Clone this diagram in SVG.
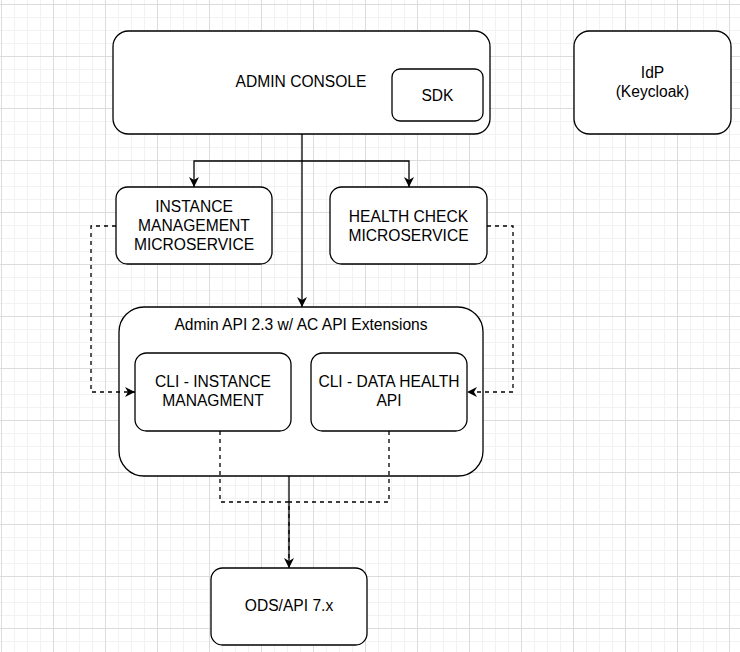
<svg xmlns="http://www.w3.org/2000/svg" width="740" height="652" viewBox="0 0 740 652">
<defs>
<pattern id="grid" x="1" y="4" width="52" height="52" patternUnits="userSpaceOnUse">
<path d="M13.5,0V52M26.5,0V52M39.5,0V52M0,13.5H52M0,26.5H52M0,39.5H52" stroke="#f2f2f2" stroke-width="1" fill="none"/>
<path d="M0.5,0V52M0,0.5H52" stroke="#dcdcdc" stroke-width="1" fill="none"/>
</pattern>
<marker id="arr" viewBox="0 0 10 10" refX="10" refY="5" markerWidth="11" markerHeight="10" markerUnits="userSpaceOnUse" orient="auto">
<path d="M0,0 L10,5 L0,10 L3,5 z" fill="#000"/>
</marker>
<style>
.box{fill:#fff;stroke:#000;stroke-width:1.3}
.t{font-family:"Liberation Sans",Arial,sans-serif;font-size:15.6px;fill:#000;text-anchor:middle}
.c{fill:none;stroke:#000;stroke-width:1.3}
.d{fill:none;stroke:#000;stroke-width:1.3;stroke-dasharray:4 4}
</style>
</defs>
<rect width="740" height="652" fill="#fff"/>
<rect width="740" height="652" fill="url(#grid)"/>

<g id="admin-console">
<rect class="box" x="113" y="31" width="377" height="103" rx="15.5"/>
<text class="t" x="301" y="86.5">ADMIN CONSOLE</text>
</g>
<g id="sdk">
<rect class="box" x="392" y="69" width="91" height="52" rx="8"/>
<text class="t" x="437.5" y="100.5">SDK</text>
</g>
<g id="idp">
<rect class="box" x="574" y="31" width="157" height="103" rx="15.5"/>
<text class="t" x="652.5" y="78">IdP</text>
<text class="t" x="652.5" y="97">(Keycloak)</text>
</g>
<g id="instance-mgmt">
<rect class="box" x="116" y="187" width="156" height="77" rx="11.5"/>
<text class="t" x="194" y="212">INSTANCE</text>
<text class="t" x="194" y="231">MANAGEMENT</text>
<text class="t" x="194" y="250">MICROSERVICE</text>
</g>
<g id="health-check">
<rect class="box" x="330" y="187" width="157" height="77" rx="11.5"/>
<text class="t" x="408.5" y="221.5">HEALTH CHECK</text>
<text class="t" x="408.5" y="240.5">MICROSERVICE</text>
</g>
<g id="admin-api">
<rect class="box" x="119" y="307" width="364" height="169" rx="25"/>
<text class="t" x="301" y="329.5">Admin API 2.3 w/ AC API Extensions</text>
</g>
<g id="cli-instance">
<rect class="box" x="135" y="353" width="156" height="78" rx="11.5"/>
<text class="t" x="213" y="387">CLI - INSTANCE</text>
<text class="t" x="213" y="406">MANAGMENT</text>
</g>
<g id="cli-health">
<rect class="box" x="311" y="353" width="156" height="78" rx="11.5"/>
<text class="t" x="389" y="387">CLI - DATA HEALTH</text>
<text class="t" x="389" y="406">API</text>
</g>
<g id="ods">
<rect class="box" x="211" y="568" width="156" height="77" rx="11.5"/>
<text class="t" x="289" y="611">ODS/API 7.x</text>
</g>

<g id="connectors">
<path class="c" d="M302,134 V307" marker-end="url(#arr)"/>
<path class="c" d="M302,161 H194 V187" marker-end="url(#arr)"/>
<path class="c" d="M302,161 H409 V187" marker-end="url(#arr)"/>
<path class="d" d="M116,226 H91 V392 H135" marker-end="url(#arr)"/>
<path class="d" d="M487,226 H513 V392 H467" marker-end="url(#arr)"/>
<path class="d" d="M220,431 V502 H289 V568"/>
<path class="d" d="M389,431 V502 H289"/>
<path class="c" d="M289,476 V568" marker-end="url(#arr)"/>
</g>
</svg>
